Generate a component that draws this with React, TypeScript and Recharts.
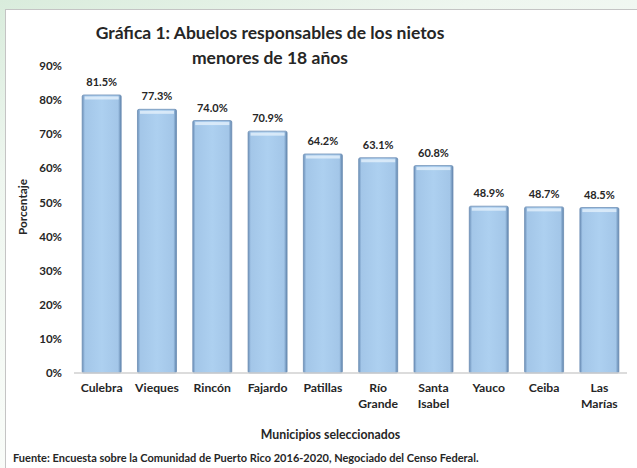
import React from 'react';
import { BarChart, Bar, XAxis, YAxis, LabelList, Label } from 'recharts';

const municipios = ['Culebra', 'Vieques', 'Rincón', 'Fajardo', 'Patillas', 'Río Grande', 'Santa Isabel', 'Yauco', 'Ceiba', 'Las Marías'];
const porcentajes = [81.5, 77.3, 74.0, 70.9, 64.2, 63.1, 60.8, 48.9, 48.7, 48.5];
const yTicks = [0, 10, 20, 30, 40, 50, 60, 70, 80, 90];

const data = municipios.map((name, i) => ({ name, value: porcentajes[i] }));

const FONT = 'Lato, "Open Sans", sans-serif';
const TEXT = '#262626';

function CategoryTick(props: any) {
  const { x, y, payload } = props;
  const lines = String(payload.value).split(' ');
  return (
    <text x={x} y={y} textAnchor="middle" fill={TEXT} fontSize={12.2} fontWeight={700} fontFamily={FONT}>
      {lines.map((l, i) => (
        <tspan key={i} x={x} dy={i === 0 ? 11 : 16}>{l}</tspan>
      ))}
    </text>
  );
}

function BevelBar(props: any) {
  const { x, y, width, height } = props;
  if (!height || height <= 0) return null;
  return (
    <g>
      <rect x={x} y={y} width={width} height={height} fill="url(#barFill)" stroke="#6f8fb5" strokeWidth={0.8} rx={1.5} />
      <rect x={x + 2.5} y={y + 1.5} width={width - 5} height={3} fill="#e4f0fb" opacity={0.8} />
    </g>
  );
}

export default function App() {
  return (
    <div
      style={{
        position: 'fixed',
        left: 0,
        top: 0,
        width: 637,
        height: 468,
        background: 'linear-gradient(160deg, #d9ecdc 0%, #eef6ef 25%, #f7fbf7 60%, #ffffff 100%)',
        fontFamily: FONT,
        overflow: 'hidden',
      }}
    >
      <div
        style={{
          position: 'absolute',
          left: 5,
          top: 9,
          width: 640,
          height: 470,
          background: '#ffffff',
          borderLeft: '1.5px solid #c4c4c4',
          borderTop: '1.5px solid #c4c4c4',
        }}
      />
      <div
        style={{
          position: 'absolute',
          left: 10,
          top: 20,
          width: 520,
          textAlign: 'center',
          fontSize: 17.5,
          fontWeight: 700,
          lineHeight: '25px',
          color: TEXT,
        }}
      >
        Gráfica 1: Abuelos responsables de los nietos
        <br />
        menores de 18 años
      </div>
      <div
        style={{
          position: 'absolute',
          left: 22,
          top: 207,
          transform: 'translate(-50%, -50%) rotate(-90deg)',
          fontSize: 11.8,
          fontWeight: 700,
          color: TEXT,
          whiteSpace: 'nowrap',
        }}
      >
        Porcentaje
      </div>
      <div style={{ position: 'absolute', left: 0, top: 0 }}>
        <BarChart
          width={637}
          height={468}
          data={data}
          margin={{ top: 66, right: 10, bottom: 29, left: 0 }}
          barCategoryGap="14.8%"
        >
          <defs>
            <linearGradient id="barFill" x1="0" y1="0" x2="1" y2="0">
              <stop offset="0%" stopColor="#6b8fb8" />
              <stop offset="7%" stopColor="#a3c6e8" />
              <stop offset="50%" stopColor="#add0f0" />
              <stop offset="92%" stopColor="#a3c6e8" />
              <stop offset="100%" stopColor="#5f83ab" />
            </linearGradient>
          </defs>
          <XAxis
            dataKey="name"
            interval={0}
            height={66}
            tickLine={false}
            axisLine={{ stroke: '#d0d0d0', strokeWidth: 1.5 }}
            tick={<CategoryTick />}
          >
            <Label value="Municipios seleccionados" position="insideBottom" offset={0} dx={-20} fill={TEXT} fontSize={12.3} fontWeight={700} fontFamily={FONT} />
          </XAxis>
          <YAxis
            width={74}
            domain={[0, 90]}
            ticks={yTicks}
            interval={0}
            axisLine={false}
            tickLine={false}
            tickSize={0}
            tickMargin={12}
            tickFormatter={(v) => `${v}%`}
            tick={{ fill: TEXT, fontSize: 11.5, fontWeight: 700, fontFamily: FONT }}
          />
          <Bar dataKey="value" shape={<BevelBar />} isAnimationActive={false}>
            <LabelList
              dataKey="value"
              position="top"
              offset={9}
              formatter={(v: any) => `${Number(v).toFixed(1)}%`}
              fill={TEXT}
              fontSize={11}
              fontWeight={700}
              fontFamily={FONT}
            />
          </Bar>
        </BarChart>
      </div>
      <div
        style={{
          position: 'absolute',
          left: 13,
          top: 451,
          fontSize: 11,
          fontWeight: 700,
          color: TEXT,
          whiteSpace: 'nowrap',
        }}
      >
        Fuente: Encuesta sobre la Comunidad de Puerto Rico 2016-2020, Negociado del Censo Federal.
      </div>
    </div>
  );
}
